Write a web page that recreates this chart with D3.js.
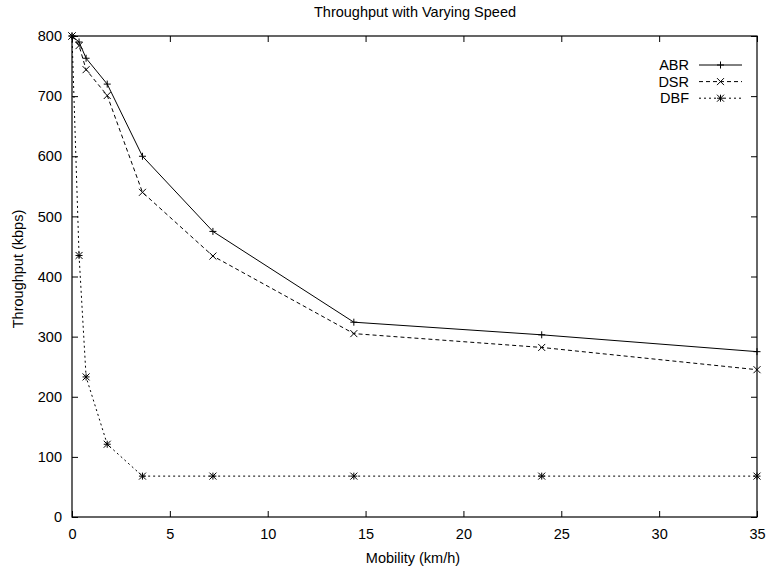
<!DOCTYPE html>
<html>
<head>
<meta charset="utf-8">
<script src="https://cdn.jsdelivr.net/npm/d3@7"></script>
<style>
  html, body { margin: 0; padding: 0; background: #fff; }
  svg { display: block; font-family: "Liberation Sans", Arial, Helvetica, sans-serif; }
</style>
</head>
<body>
<svg id="chart" width="768" height="571"></svg>
<script>
// Mobility levels (km/h)
const speeds = [0, 0.36, 0.72, 1.8, 3.6, 7.2, 14.4, 24, 35];
// Throughput (kbps) per routing protocol
const abr = [800, 790, 763, 720, 600, 475, 324, 303, 275];
const dsr = [800, 784, 744, 701, 540, 434, 305, 282, 245];
const dbf = [800, 435, 233, 121, 68, 68, 68, 68, 68];

const seriesNames = ["ABR", "DSR", "DBF"];
const xTicks = [0, 5, 10, 15, 20, 25, 30, 35];
const yTicks = [0, 100, 200, 300, 400, 500, 600, 700, 800];

const svg = d3.select("#chart");
const W = 768, H = 571;
const m = { left: 72, right: 11, top: 36, bottom: 54 };
const fs = 14.5;

const x = d3.scaleLinear().domain([0, 35]).range([m.left, W - m.right]);
const y = d3.scaleLinear().domain([0, 800]).range([H - m.bottom, m.top]);

const series = [
  { name: seriesNames[0], values: abr, dash: null, marker: "plus" },
  { name: seriesNames[1], values: dsr, dash: "4,3", marker: "cross" },
  { name: seriesNames[2], values: dbf, dash: "2,3", marker: "star" }
];

// Title
svg.append("text")
  .attr("x", 415).attr("y", 16.5)
  .attr("text-anchor", "middle").attr("font-size", fs)
  .text("Throughput with Varying Speed");

// Axes with inward ticks, mirrored on top and right
const tickLen = 6;
const gx = svg.append("g").attr("transform", `translate(0,${y(0)})`)
  .call(d3.axisBottom(x).tickValues(xTicks).tickSizeInner(-tickLen).tickSizeOuter(0).tickPadding(12));
const gxTop = svg.append("g").attr("transform", `translate(0,${y(800)})`)
  .call(d3.axisTop(x).tickValues(xTicks).tickSizeInner(-tickLen).tickSizeOuter(0).tickFormat(""));
const gy = svg.append("g").attr("transform", `translate(${x(0)},0)`)
  .call(d3.axisLeft(y).tickValues(yTicks).tickSizeInner(-tickLen).tickSizeOuter(0).tickPadding(10));
const gyRight = svg.append("g").attr("transform", `translate(${x(35)},0)`)
  .call(d3.axisRight(y).tickValues(yTicks).tickSizeInner(-tickLen).tickSizeOuter(0).tickFormat(""));

[gx, gxTop, gy, gyRight].forEach(g => {
  g.select(".domain").remove();
  g.selectAll("line").attr("stroke", "#000").attr("stroke-width", 1);
  g.selectAll("text").attr("font-size", fs).attr("fill", "#000")
    .attr("font-family", "Liberation Sans, Arial, sans-serif");
});

// Frame
svg.append("rect")
  .attr("x", x(0)).attr("y", y(800))
  .attr("width", x(35) - x(0)).attr("height", y(0) - y(800))
  .attr("fill", "none").attr("stroke", "#000").attr("stroke-width", 1.2);

// Axis titles
svg.append("text")
  .attr("x", 413).attr("y", 562.5)
  .attr("text-anchor", "middle").attr("font-size", fs)
  .text("Mobility (km/h)");
svg.append("text")
  .attr("transform", `translate(22.5,269) rotate(-90)`)
  .attr("text-anchor", "middle").attr("font-size", fs)
  .text("Throughput (kbps)");

// Marker drawing
function drawMarker(g, type, cx, cy) {
  const s = 3.5;
  const p = d3.path();
  if (type === "plus" || type === "star") {
    p.moveTo(cx - s, cy); p.lineTo(cx + s, cy);
    p.moveTo(cx, cy - s); p.lineTo(cx, cy + s);
  }
  if (type === "cross" || type === "star") {
    p.moveTo(cx - s, cy - s); p.lineTo(cx + s, cy + s);
    p.moveTo(cx - s, cy + s); p.lineTo(cx + s, cy - s);
  }
  g.append("path").attr("d", p.toString())
    .attr("stroke", "#000").attr("stroke-width", 1).attr("fill", "none");
}

const line = d3.line().x(d => x(d[0])).y(d => y(d[1]));
const plot = svg.append("g");

series.forEach(s => {
  const pts = speeds.map((v, i) => [v, s.values[i]]);
  plot.append("path").datum(pts)
    .attr("d", line)
    .attr("fill", "none").attr("stroke", "#000").attr("stroke-width", 1)
    .attr("stroke-dasharray", s.dash);
  pts.forEach(d => drawMarker(plot, s.marker, x(d[0]), y(d[1])));
});

// Legend
const legend = svg.append("g");
series.forEach((s, i) => {
  const ly = 65 + i * 16.6;
  legend.append("text")
    .attr("x", 689).attr("y", ly + 5)
    .attr("text-anchor", "end").attr("font-size", fs)
    .text(s.name);
  legend.append("line")
    .attr("x1", 699).attr("x2", 742).attr("y1", ly).attr("y2", ly)
    .attr("stroke", "#000").attr("stroke-width", 1)
    .attr("stroke-dasharray", s.dash);
  drawMarker(legend, s.marker, 720.5, ly);
});
</script>
</body>
</html>
